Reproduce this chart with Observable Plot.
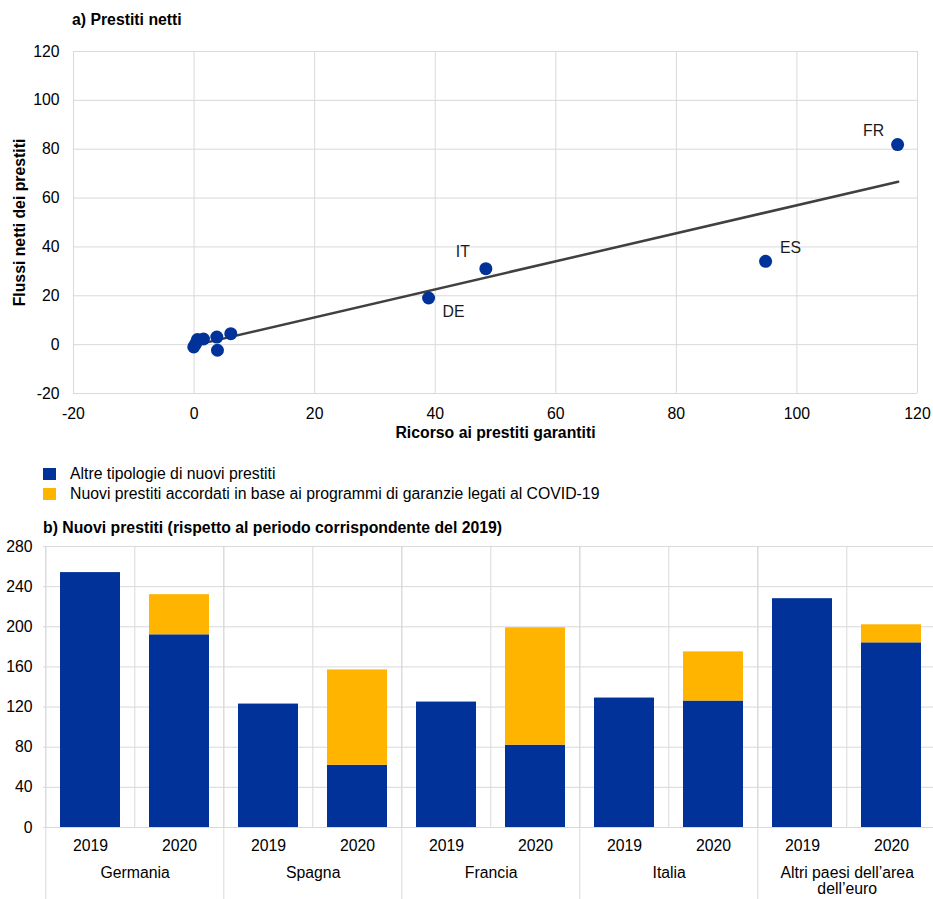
<!DOCTYPE html>
<html>
<head>
<meta charset="utf-8">
<script src="https://cdn.jsdelivr.net/npm/d3@7"></script>
<script src="https://cdn.jsdelivr.net/npm/@observablehq/plot@0.6"></script>
<style>
  body { margin: 0; background: #fff; }
  #wrap { position: relative; width: 933px; height: 899px; overflow: hidden;
          font-family: "Liberation Sans", Arial, sans-serif; color: #000; }
  .abs { position: absolute; }
  .title { font-weight: bold; font-size: 15.8px; line-height: 1; white-space: nowrap; }
  .leg { font-size: 15.8px; line-height: 1; white-space: nowrap; display: flex; align-items: center; }
  .sw { width: 13px; height: 12px; display: inline-block; margin-right: 14px; }
</style>
</head>
<body>
<div id="wrap"></div>
<script>
// ---------- Panel a data ----------
const scatterLabels = ["FR", "ES", "IT", "DE", "", "", "", "", "", "", ""];
const scatterX = [116.7, 94.8, 48.4, 38.9, -0.05, 0.28, 0.56, 1.56, 3.77, 3.88, 6.09];
const scatterY = [81.9, 34.1, 31.1, 19.1, -0.94, 0.45, 2.1, 2.3, 3.1, -2.3, 4.5];
const trendX = [0, 116.8];
const trendY = [-0.3, 66.7];
const axisTicksA = [-20, 0, 20, 40, 60, 80, 100, 120];

// ---------- Panel b data ----------
const countries = ["Germania", "Spagna", "Francia", "Italia", "Altri paesi dell\u2019area\ndell\u2019euro"];
const years = ["2019", "2020"];
const seriesNames = ["Altre tipologie di nuovi prestiti",
                     "Nuovi prestiti accordati in base ai programmi di garanzie legati al COVID-19"];
const seriesColors = ["#003299", "#FFB400"];
const otherLoans = [254, 192, 123, 62, 125, 82, 129, 126, 228, 184];
const covidLoans = [0, 40, 0, 95, 0, 117, 0, 49, 0, 18];
const axisTicksB = [0, 40, 80, 120, 160, 200, 240, 280];

const FONT = '"Liberation Sans", Arial, sans-serif';
const FS = "15.8px";
const GRID = "#d9d9d9";
const wrap = document.getElementById("wrap");

function place(el, left, top) {
  el.classList.add("abs");
  el.style.left = left + "px";
  el.style.top = top + "px";
  wrap.appendChild(el);
  return el;
}

// ---------- Panel a ----------
const titleA = document.createElement("div");
titleA.className = "title";
titleA.textContent = "a) Prestiti netti";
place(titleA, 72, 12);

const pts = scatterX.map((x, i) => ({x, y: scatterY[i], label: scatterLabels[i]}));
const trend = trendX.map((x, i) => ({x, y: trendY[i]}));
const labelOffsets = {FR: [-24, -14], ES: [25, -13], IT: [-23, -17], DE: [25, 14]};

const plotA = Plot.plot({
  width: 933, height: 450,
  marginTop: 51, marginBottom: 57, marginLeft: 73, marginRight: 16,
  style: {fontFamily: FONT, fontSize: FS, color: "#000", background: "transparent", overflow: "visible"},
  x: {domain: [-20, 120]},
  y: {domain: [-20, 120]},
  marks: [
    Plot.gridX(axisTicksA, {stroke: GRID, strokeOpacity: 1}),
    Plot.gridY(axisTicksA, {stroke: GRID, strokeOpacity: 1}),
    Plot.axisX(axisTicksA, {tickSize: 0, tickPadding: 14, tickFormat: d => String(d), label: null}),
    Plot.axisY(axisTicksA, {tickSize: 0, tickPadding: 14, tickFormat: d => String(d), label: null}),
    Plot.line(trend, {x: "x", y: "y", stroke: "#404040", strokeWidth: 2.5}),
    Plot.dot(pts, {x: "x", y: "y", r: 6.5, fill: "#003299", stroke: "none"}),
    ...Object.entries(labelOffsets).map(([lab, [dx, dy]]) =>
      Plot.text(pts.filter(d => d.label === lab), {x: "x", y: "y", text: "label", dx, dy, fill: "#1a1a1a"})),
    Plot.text(["Flussi netti dei prestiti"], {frameAnchor: "left", textAnchor: "middle", rotate: -90, dx: -54, fontWeight: "bold"}),
    Plot.text(["Ricorso ai prestiti garantiti"], {frameAnchor: "bottom", textAnchor: "middle", dy: 44, fontWeight: "bold"})
  ]
});
place(plotA, 0, 0);

// ---------- Legend ----------
seriesNames.forEach((name, i) => {
  const row = document.createElement("div");
  row.className = "leg";
  const sw = document.createElement("span");
  sw.className = "sw";
  sw.style.background = seriesColors[i];
  row.appendChild(sw);
  row.appendChild(document.createTextNode(name));
  place(row, 43, 466 + i * 20);
});

// ---------- Panel b ----------
const titleB = document.createElement("div");
titleB.className = "title";
titleB.textContent = "b) Nuovi prestiti (rispetto al periodo corrispondente del 2019)";
place(titleB, 43, 520);

const keys = countries.flatMap(c => years.map(y => c + "|" + y));
const rows = [
  ...keys.map((k, i) => ({key: k, series: seriesNames[0], value: otherLoans[i]})),
  ...keys.map((k, i) => ({key: k, series: seriesNames[1], value: covidLoans[i]}))
];

const W = 933, ML = 43, MR = -4;
const step = (W - ML - MR) / keys.length;

const plotB = Plot.plot({
  width: W, height: 369,
  marginTop: 16, marginBottom: 72, marginLeft: ML, marginRight: MR,
  style: {fontFamily: FONT, fontSize: FS, color: "#000", background: "transparent"},
  x: {domain: keys, paddingInner: 0.33, paddingOuter: 0.165, axis: null},
  y: {domain: [0, 280]},
  color: {domain: seriesNames, range: seriesColors},
  marks: [
    Plot.gridY(axisTicksB, {stroke: GRID, strokeOpacity: 1}),
    Plot.ruleX(keys, {x: d => d, dx: -step / 2, stroke: GRID}),
    Plot.ruleX(countries.map(c => c + "|2019"), {x: d => d, dx: -step / 2, stroke: GRID, insetBottom: -72}),
    Plot.barY(rows, {x: "key", y: "value", fill: "series"}),
    Plot.axisY(axisTicksB, {tickSize: 0, tickPadding: 11, tickFormat: d => String(d), label: null}),
    Plot.axisX(keys, {tickSize: 0, tickPadding: 12, tickFormat: k => k.split("|")[1], label: null}),
    Plot.text(countries, {x: c => c + "|2019", dx: step / 2, frameAnchor: "bottom", dy: 39,
                          lineAnchor: "top", lineHeight: 1.02, text: d => d})
  ]
});
place(plotB, 0, 530);
</script>
</body>
</html>
